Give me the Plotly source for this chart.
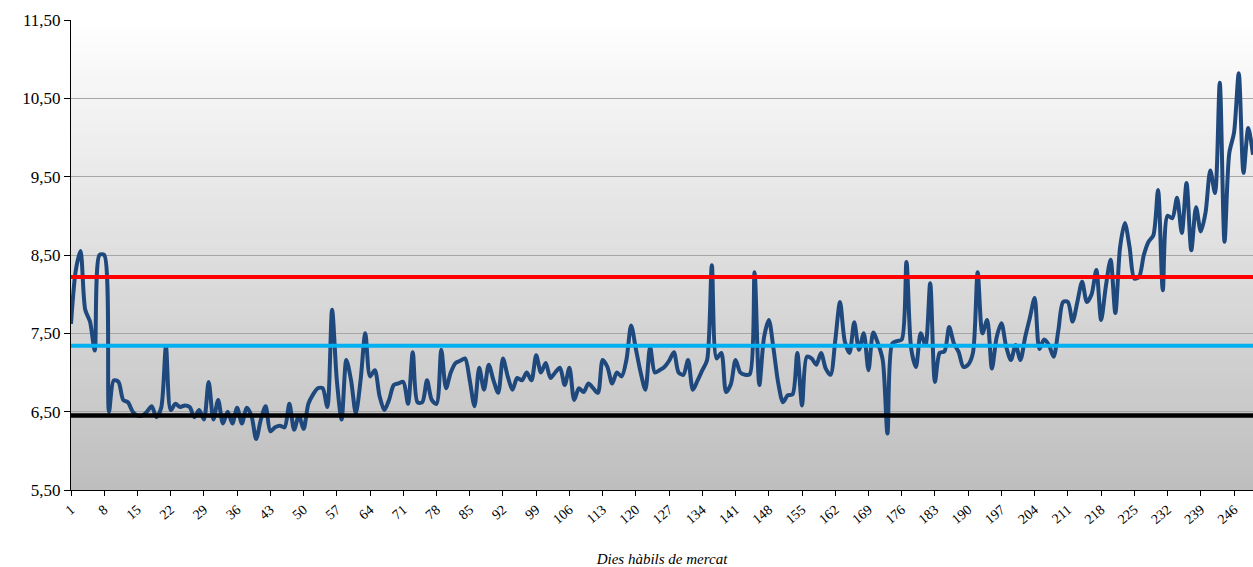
import plotly.graph_objects as go

# ---- data ----
dies = list(range(1, 251))
valors = [
    7.62, 8.3, 8.55, 7.8, 7.65, 7.28, 8.5, 8.5, 6.5, 6.9,
    6.88, 6.65, 6.62, 6.5, 6.45, 6.45, 6.5, 6.57, 6.43, 6.55,
    7.33, 6.52, 6.6, 6.56, 6.58, 6.56, 6.43, 6.52, 6.4, 6.88,
    6.4, 6.65, 6.35, 6.5, 6.35, 6.55, 6.35, 6.55, 6.45, 6.15,
    6.4, 6.57, 6.25, 6.3, 6.32, 6.3, 6.6, 6.27, 6.45, 6.28,
    6.6, 6.72, 6.8, 6.8, 6.56, 7.8, 6.9, 6.4, 7.16, 6.9,
    6.48, 6.9, 7.5, 6.95, 7.03, 6.7, 6.52, 6.65, 6.84, 6.86,
    6.88, 6.6, 7.26, 6.62, 6.62, 6.9, 6.65, 6.6, 7.29, 6.8,
    7.0, 7.12, 7.15, 7.18, 6.9, 6.57, 7.06, 6.78, 7.1, 6.9,
    6.74, 7.18, 6.95, 6.78, 6.93, 6.9, 7.0, 6.9, 7.22, 7.0,
    7.12, 6.93, 7.0, 7.06, 6.84, 7.06, 6.65, 6.8, 6.75, 6.86,
    6.8, 6.74, 7.16, 7.07, 6.86, 7.0, 6.95, 7.16, 7.6, 7.3,
    7.0, 6.78, 7.33, 7.0, 7.03, 7.07, 7.15, 7.26, 7.0, 6.97,
    7.16, 6.78, 6.9, 7.03, 7.16, 8.37, 7.18, 7.25, 6.75, 6.85,
    7.16, 7.0, 6.97, 6.98, 8.28, 6.84, 7.45, 7.67, 7.3, 6.86,
    6.62, 6.71, 6.72, 7.25, 6.58, 7.2, 7.18, 7.1, 7.25, 7.05,
    6.97, 7.41, 7.9, 7.4, 7.25, 7.64, 7.29, 7.5, 7.03, 7.51,
    7.37, 7.16, 6.22, 7.37, 7.4, 7.42, 8.41, 7.3, 7.07, 7.5,
    7.35, 8.14, 6.88, 7.25, 7.27, 7.58, 7.37, 7.26, 7.07, 7.1,
    7.25, 8.28, 7.5, 7.67, 7.05, 7.45, 7.63, 7.33, 7.16, 7.35,
    7.16, 7.45, 7.7, 7.95, 7.3, 7.42, 7.35, 7.2, 7.54, 7.9,
    7.9, 7.65, 7.9, 8.16, 7.9, 8.0, 8.31, 7.67, 8.1, 8.44,
    7.76, 8.6, 8.91, 8.6, 8.2, 8.22, 8.5, 8.67, 8.75, 9.33,
    8.05, 9.0, 8.97, 9.23, 8.78, 9.42, 8.56, 9.11, 8.8, 9.04,
    9.58, 9.29, 10.7, 8.67, 9.8, 10.06, 10.82, 9.55, 10.12, 9.78,
]
nivell_superior = 8.22
nivell_mitja = 7.34
nivell_inferior = 6.45

tick_dies = list(range(1, 251, 7))
tick_labels = [str(d) for d in tick_dies]
y_ticks = [5.5, 6.5, 7.5, 8.5, 9.5, 10.5, 11.5]

fig = go.Figure()

fig.add_trace(go.Scatter(
    x=dies, y=valors, mode="lines",
    line=dict(color="#1f497d", width=4, shape="spline", smoothing=0.8),
    showlegend=False, hoverinfo="skip", cliponaxis=False))

for lvl, col, w in [(nivell_superior, "#ff0000", 4),
                    (nivell_mitja, "#00b0f0", 4),
                    (nivell_inferior, "#000000", 4.5)]:
    fig.add_trace(go.Scatter(
        x=[dies[0], dies[-1]], y=[lvl, lvl], mode="lines",
        line=dict(color=col, width=w), showlegend=False, hoverinfo="skip"))

# vertical gradient background (white -> grey)
n = 80
shapes = []
for i in range(n):
    t = (i + 0.5) / n
    c = int(round(255 - (255 - 190) * t))
    shapes.append(dict(type="rect", xref="paper", yref="paper",
                       x0=0, x1=1, y0=1 - (i + 1) / n, y1=1 - i / n + 0.002,
                       fillcolor=f"rgb({c},{c},{c})", line=dict(width=0),
                       layer="below"))

fig.update_layout(
    width=1253, height=567,
    margin=dict(l=71, r=0, t=20, b=77),
    paper_bgcolor="white",
    plot_bgcolor="rgba(0,0,0,0)",
    separators=",.",
    shapes=shapes,
    font=dict(family="Liberation Serif", color="black"),
    xaxis=dict(
        range=[1, 250], tickmode="array", tickvals=tick_dies, ticktext=tick_labels,
        tickangle=-40, tickfont=dict(size=14, family="Liberation Serif"),
        automargin=False,
        showgrid=False, zeroline=False, showline=True, linecolor="black", linewidth=1,
        ticks="outside", ticklen=5, tickcolor="black",
        title=dict(text="<i>Dies hàbils de mercat</i>",
                   font=dict(size=15, family="Liberation Serif"), standoff=27),
    ),
    yaxis=dict(
        range=[5.5, 11.5], tickmode="array", tickvals=y_ticks, tickformat=".2f",
        tickfont=dict(size=17, family="Liberation Serif"),
        automargin=False,
        showgrid=True, gridcolor="#a6a6a6", gridwidth=1,
        zeroline=False, showline=True, linecolor="black", linewidth=1,
        ticks="outside", ticklen=6, tickcolor="black",
    ),
)

# remove the default page margin so the figure fills the window exactly
fig.write_html(
    "out.html",
    config={"displayModeBar": False},
    post_script="document.body.style.margin='0';"
                "document.documentElement.style.overflow='hidden';",
)
